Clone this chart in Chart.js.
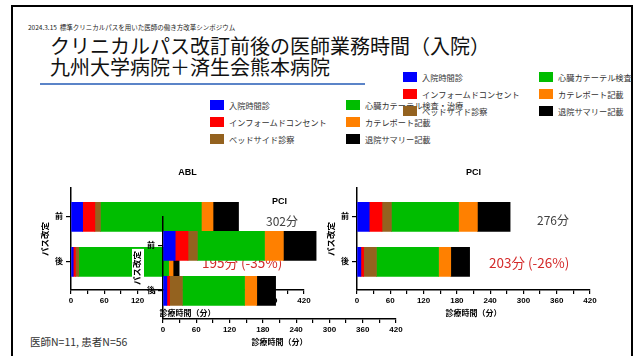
<!DOCTYPE html>
<html>
<head>
<meta charset="utf-8">
<script src="https://cdn.jsdelivr.net/npm/chart.js@4.4.1/dist/chart.umd.min.js"></script>
<style>
    body { margin: 0; width: 637px; height: 356px; position: relative; overflow: hidden; background: #fff;
           font-family: "Noto Sans CJK JP", "Noto Sans", sans-serif; }
    #frame { position: absolute; left: 11px; top: 5px; width: 618px; height: 420px; border: 2px solid #000; }
    .abs { position: absolute; white-space: nowrap; }
    #date { left: 28px; top: 23px; font-size: 6.5px; line-height: 8px; color: #222; }
    #title { left: 50px; top: 35px; font-size: 20px; line-height: 21px; color: #111; }
    #rule { left: 40px; top: 83px; width: 325px; height: 2px; background: #5b84c8; }
    #footer { left: 30px; top: 335px; font-size: 10.5px; line-height: 14px; color: #333; }
    canvas { position: absolute; }
    .legend { position: absolute; display: grid; grid-auto-flow: column;
              grid-template-rows: repeat(3, 17px); grid-template-columns: 136px 136px; }
    .legend .item { display: flex; align-items: flex-start; height: 17px; }
    .legend .box { width: 14px; height: 10px; margin-right: 5px; flex: none; }
    .legend .txt { font-size: 8.2px; line-height: 10px; color: #333; white-space: nowrap; }
    .note { position: absolute; white-space: nowrap; }
    .note.total { font-size: 12px; line-height: 14px; color: #404040; }
    .note.cut { font-size: 13.5px; line-height: 16px; color: #d42a2a; }
</style>
</head>
<body>
<div id="frame"></div>
<div id="date" class="abs">2024.3.15&nbsp;&nbsp;標準クリニカルパスを用いた医師の働き方改革シンポジウム</div>
<div id="title" class="abs">クリニカルパス改訂前後の医師業務時間（入院）<br>九州大学病院＋済生会熊本病院</div>
<div id="rule" class="abs"></div>

<canvas id="ablChart" width="279" height="160" style="z-index:1"></canvas>
<div id="ablNotes"></div>
<canvas id="pciOverlay" width="279" height="160" style="z-index:3"></canvas>
<canvas id="pciChart" width="279" height="160" style="z-index:3"></canvas>
<div id="pciNotes"></div>

<div id="legendB" class="legend" style="left:210px; top:100px; z-index:4"></div>
<div id="legendA" class="legend" style="left:403px; top:72px; z-index:5"></div>

<div id="footer" class="abs">医師N=11, 患者N=56</div>

<script>
// Data
const stages = ['前', '後'];
const segmentNames = ['入院時間診', 'インフォームドコンセント', 'ベッドサイド診察',
    '心臓カテーテル検査・治療', 'カテレポート記載', '退院サマリー記載'];
const segmentNamesPci = ['入院時間診', 'インフォームドコンセント', 'ベッドサイド診察',
    '心臓カテーテル検査', 'カテレポート記載', '退院サマリー記載'];
const ablPre = [21, 22, 10, 182, 21, 46];   // 302分
const ablPost = [4, 4, 6, 162, 8, 11];      // 195分
const pciPre = [22, 23, 17, 121, 34, 59];   // 276分
const pciPost = [7, 5, 23, 112, 22, 34];    // 203分
const ablNotes = ['302分', '195分 (-35%)'];
const pciNotes = ['276分', '203分 (-26%)'];
const xMax = 420;
const xStep = 30;
const xLabelStep = 60;

const segmentColors = ['#0000ff', '#ff0000', '#94621f', '#00bd00', '#ff8000', '#000000'];

Chart.defaults.font.family = '"Liberation Sans", "Noto Sans CJK JP", sans-serif';
Chart.defaults.color = '#000';

// white patch behind the y-axis title of the pasted PCI chart
const yTitleBackdrop = {
    id: 'yTitleBackdrop',
    beforeDraw(chart) {
        const s = chart.scales.y;
        const a = chart.chartArea;
        const cy = (a.top + a.bottom) / 2;
        chart.ctx.save();
        chart.ctx.fillStyle = '#fff';
        chart.ctx.fillRect(s.left + 3, cy - 19, 12, 38);
        chart.ctx.restore();
    }
};

function makeChart(id, title, pre, post, areaLeft, areaTop, extraPlugins) {
    const canvas = document.getElementById(id);
    const rows = [pre, post];
    const chart = new Chart(canvas, {
        type: 'bar',
        data: {
            labels: stages,
            datasets: segmentNames.map((name, i) => ({
                label: name,
                data: rows.map((row, j) => ({ x: row[i], y: j })),
                backgroundColor: segmentColors[i],
                barThickness: 29
            }))
        },
        options: {
            indexAxis: 'y',
            responsive: false,
            animation: false,
            layout: { padding: { left: 0, right: 12, top: 0, bottom: 0 } },
            plugins: {
                legend: { display: false },
                tooltip: { enabled: false },
                title: {
                    display: true, text: title, color: '#000', fullSize: false,
                    font: { size: 9, weight: 'bold' },
                    padding: { top: 4, bottom: 10 }
                }
            },
            scales: {
                x: {
                    stacked: true, min: 0, max: xMax,
                    border: { color: '#000', width: 1.5 },
                    grid: { drawOnChartArea: false, color: '#000', tickLength: 4, lineWidth: 1.2 },
                    ticks: {
                        stepSize: xStep, autoSkip: false, maxRotation: 0, padding: 2,
                        font: { size: 8, weight: 'bold' },
                        callback: v => (v % xLabelStep === 0 ? v : '')
                    },
                    title: { display: true, text: '診療時間（分）', font: { size: 8, weight: 'bold' } },
                    afterFit: s => { s.height = 33; }
                },
                y: {
                    type: 'linear', stacked: true, reverse: true, offset: false,
                    min: -0.644, max: 1.622,
                    afterBuildTicks: s => { s.ticks = stages.map((_, i) => ({ value: i })); },
                    border: { color: '#000', width: 1.5 },
                    grid: { drawOnChartArea: false, offset: false, color: '#000', tickLength: 5, lineWidth: 1.2 },
                    ticks: { font: { size: 8, weight: 'bold' }, callback: v => stages[v] || '' },
                    title: { display: true, text: 'パス改定', font: { size: 8.5, weight: 'bold' } },
                    afterFit: s => { s.width = 34; }
                }
            }
        },
        plugins: extraPlugins || []
    });
    const a = chart.chartArea;
    canvas.style.left = Math.round(areaLeft - a.left) + 'px';
    canvas.style.top = Math.round(areaTop - a.top) + 'px';
    return chart;
}

// spots are [left, top] of each text line
function addNotes(id, notes, spots, z) {
    const holder = document.getElementById(id);
    notes.forEach((text, i) => {
        const el = document.createElement('div');
        el.className = 'note ' + (i === 0 ? 'total' : 'cut');
        el.textContent = text;
        el.style.left = spots[i][0] + 'px';
        el.style.top = spots[i][1] + 'px';
        el.style.zIndex = z;
        holder.appendChild(el);
    });
}

function buildLegend(id, names) {
    const el = document.getElementById(id);
    names.forEach((name, i) => {
        const item = document.createElement('div');
        item.className = 'item';
        item.innerHTML = '<span class="box" style="background:' + segmentColors[i] + '"></span>' +
            '<span class="txt">' + name + '</span>';
        el.appendChild(item);
    });
}

makeChart('ablChart', 'ABL', ablPre, ablPost, 71, 188);
addNotes('ablNotes', ablNotes, [[266, 214], [202, 254]], 2);
makeChart('pciOverlay', 'PCI', pciPre, pciPost, 163, 217, [yTitleBackdrop]);
makeChart('pciChart', 'PCI', pciPre, pciPost, 357, 188);
addNotes('pciNotes', pciNotes, [[537, 213], [489, 254]], 4);

buildLegend('legendB', segmentNames);
buildLegend('legendA', segmentNamesPci);
</script>
</body>
</html>
